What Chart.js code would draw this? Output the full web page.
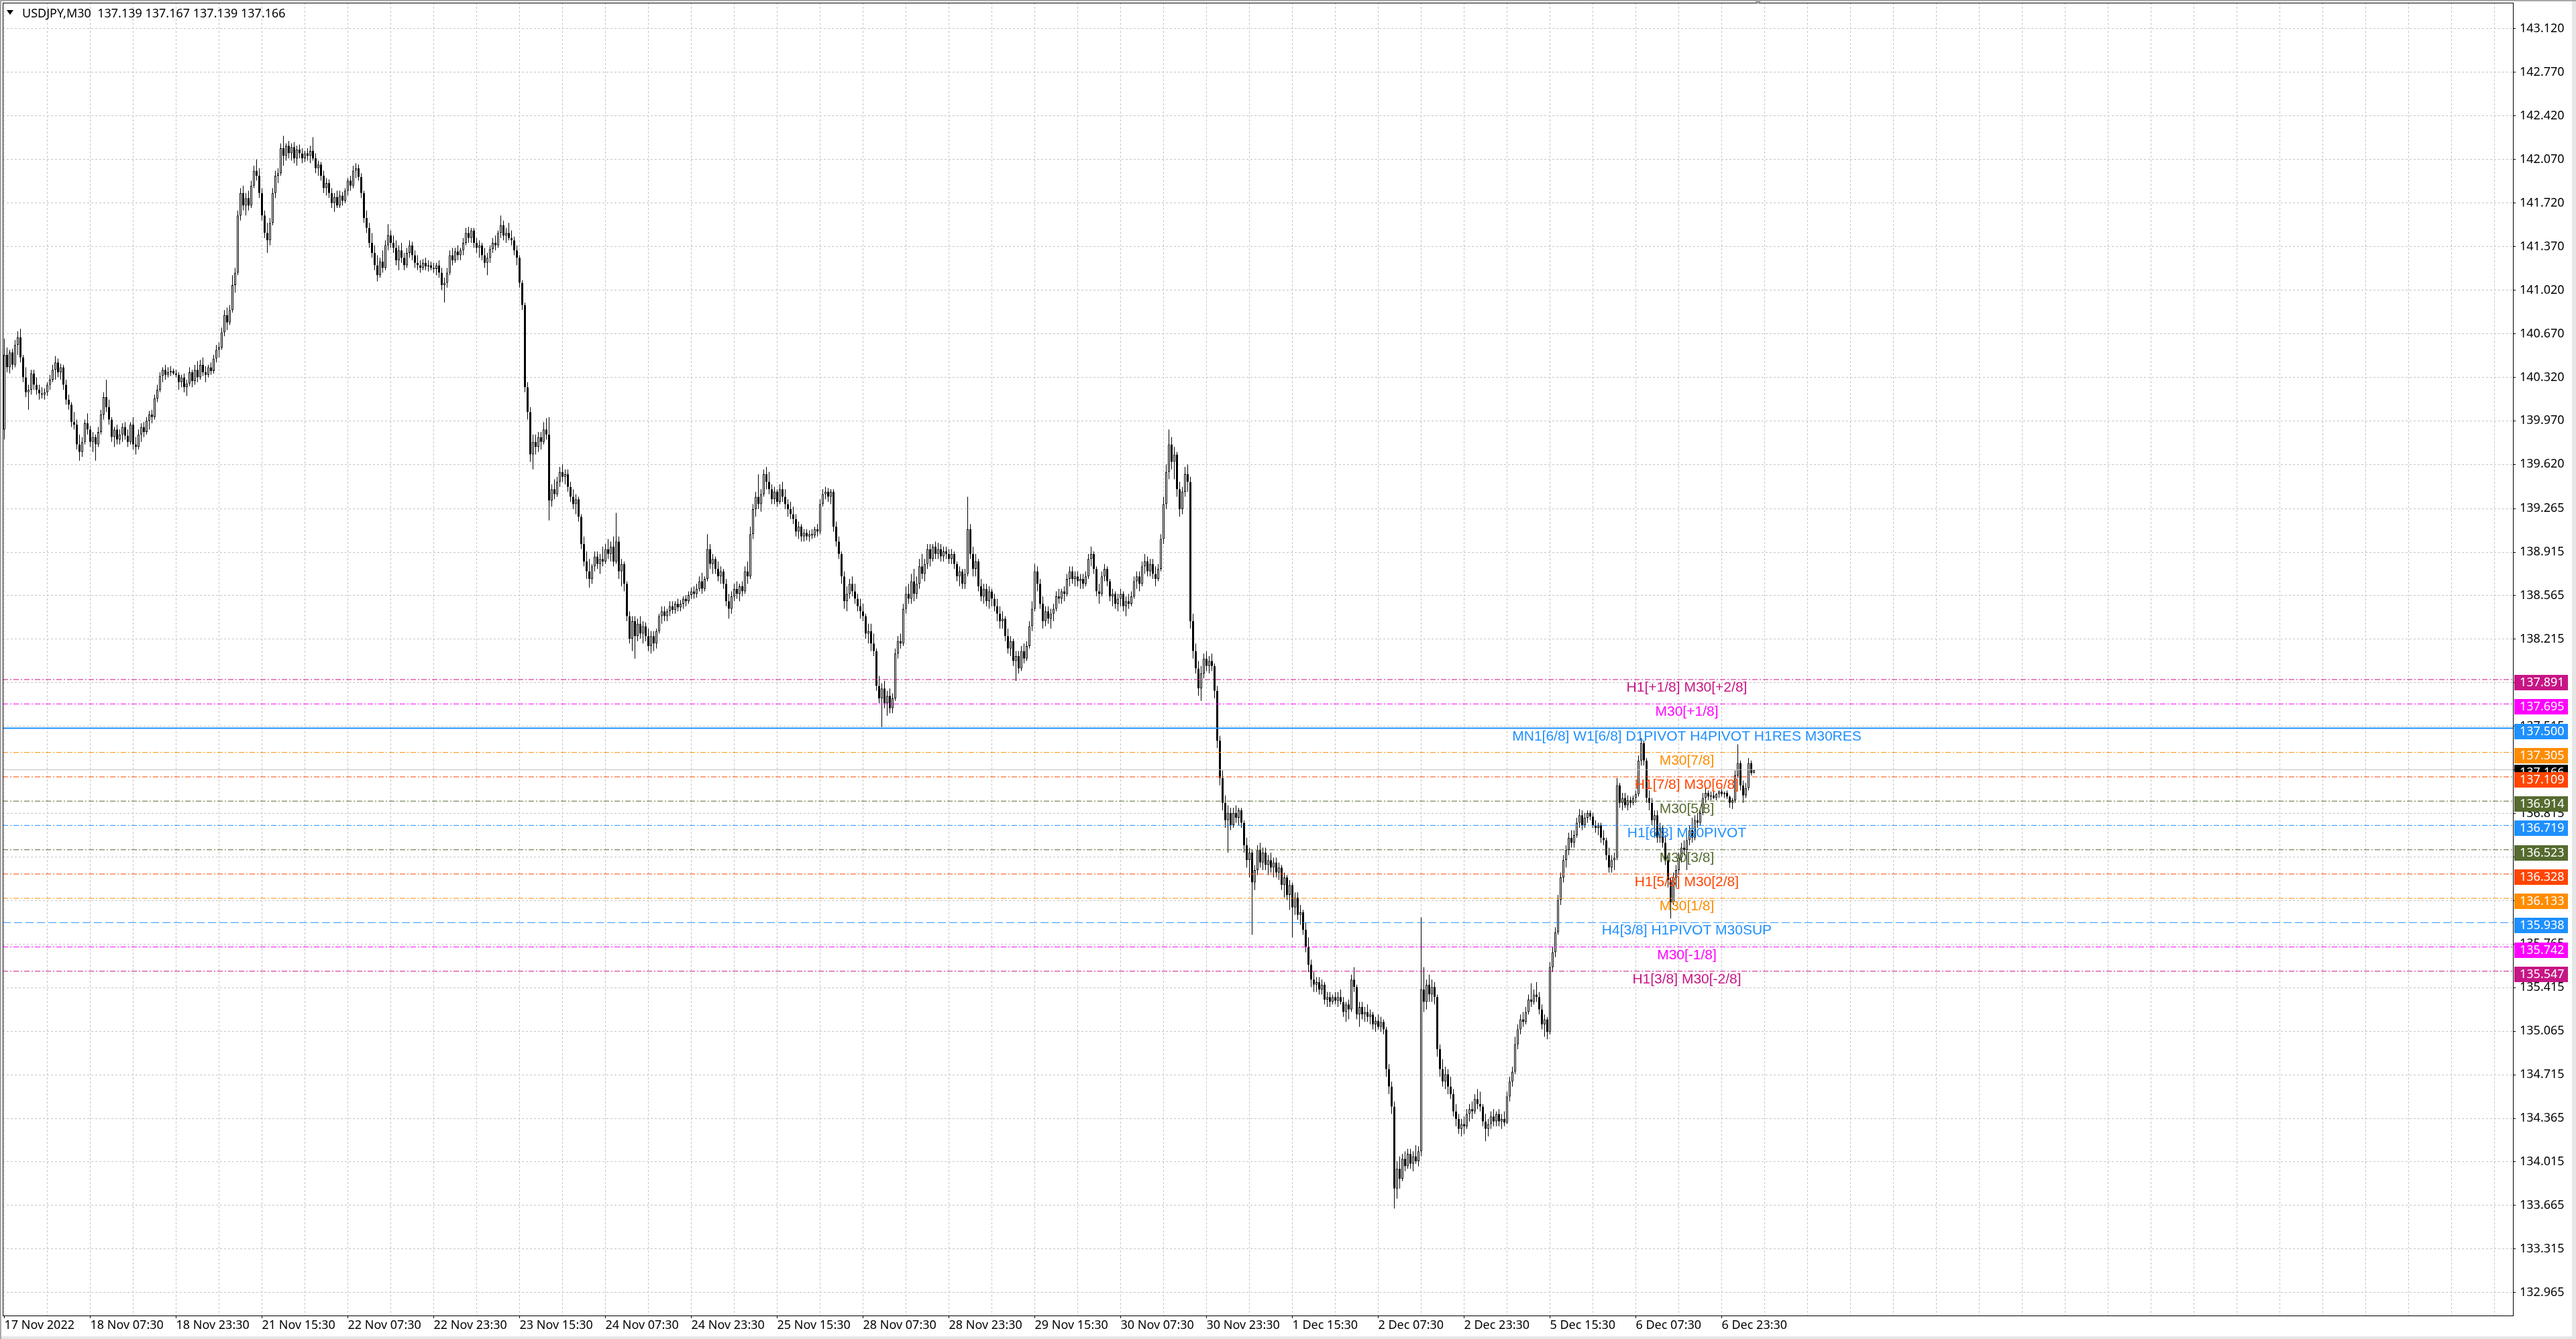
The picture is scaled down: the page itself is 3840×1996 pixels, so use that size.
<!DOCTYPE html>
<html>
<head>
<meta charset="utf-8">
<title>USDJPY,M30</title>
<script src="https://cdn.jsdelivr.net/npm/chart.js@4.4.0/dist/chart.umd.min.js"></script>
<style>
  html, body { margin: 0; padding: 0; background: #ffffff; overflow: hidden; }
  canvas { display: block; }
</style>
</head>
<body>
<canvas id="chart" width="3840" height="1996"></canvas>
<script>
// USDJPY M30 candles, one row per bar: [open, high, low, close]
// first bar 17 Nov 2022 15:30, last bar 7 Dec 2022 05:30
const nov17 = [
  [139.90,140.63,139.82,140.50],[140.50,140.56,140.36,140.40],[140.40,140.54,140.35,140.52],[140.52,140.55,140.38,140.42],
  [140.42,140.62,140.40,140.58],[140.58,140.69,140.50,140.64],[140.64,140.71,140.44,140.48],[140.48,140.50,140.28,140.32],
  [140.32,140.40,140.16,140.20],[140.20,140.26,140.06,140.22],[140.22,140.38,140.18,140.35],[140.35,140.38,140.22,140.26],
  [140.26,140.32,140.18,140.22],[140.22,140.26,140.14,140.19],[140.19,140.24,140.15,140.18],[140.18,140.23,140.14,140.20],
  [140.20,140.28,140.17,140.26]
];
const nov18 = [
  [140.26,140.34,140.22,140.30],[140.30,140.42,140.28,140.38],[140.38,140.49,140.30,140.44],[140.44,140.47,140.32,140.36],
  [140.36,140.43,140.30,140.40],[140.40,140.42,140.22,140.26],[140.26,140.30,140.10,140.14],[140.14,140.18,140.06,140.10],
  [140.10,140.12,139.92,139.96],[139.96,140.04,139.90,139.94],[139.94,139.98,139.74,139.78],[139.78,139.86,139.65,139.72],
  [139.72,139.84,139.68,139.80],[139.80,139.98,139.78,139.95],[139.95,140.03,139.86,139.90],[139.90,139.93,139.76,139.80],
  [139.80,139.88,139.72,139.84],[139.84,139.86,139.65,139.78],[139.78,139.92,139.76,139.88],[139.88,140.06,139.86,140.02],
  [140.02,140.20,139.98,140.16],[140.16,140.30,140.04,140.08],[140.08,140.14,139.94,139.98],[139.98,140.00,139.80,139.84],
  [139.84,139.92,139.76,139.90],[139.90,139.94,139.78,139.82],[139.82,139.90,139.78,139.86],[139.86,139.95,139.80,139.92],
  [139.92,139.96,139.82,139.85],[139.85,139.90,139.76,139.80],[139.80,139.96,139.78,139.94],[139.94,140.00,139.74,139.78],
  [139.78,139.84,139.70,139.76],[139.76,139.90,139.74,139.86],[139.86,139.95,139.80,139.92],[139.92,139.96,139.84,139.88],
  [139.88,140.00,139.86,139.97],[139.97,140.05,139.90,140.02],[140.02,140.06,139.95,140.00],[140.00,140.18,139.98,140.15],
  [140.15,140.26,140.12,140.22],[140.22,140.36,140.20,140.33],[140.33,140.40,140.28,140.38],[140.38,140.42,140.30,140.34],
  [140.34,140.40,140.32,140.36],[140.36,140.41,140.33,140.37],[140.37,140.39,140.34,140.35],[140.35,140.38,140.32,140.34]
];
const nov21 = [
  [140.34,140.36,140.22,140.28],[140.28,140.34,140.24,140.32],[140.32,140.35,140.20,140.24],[140.24,140.30,140.17,140.27],
  [140.27,140.40,140.25,140.36],[140.36,140.38,140.24,140.29],[140.29,140.42,140.26,140.38],[140.38,140.45,140.28,140.32],
  [140.32,140.46,140.30,140.42],[140.42,140.48,140.33,140.36],[140.36,140.41,140.28,140.34],[140.34,140.42,140.32,140.40],
  [140.40,140.44,140.34,140.37],[140.37,140.50,140.35,140.47],[140.47,140.58,140.44,140.54],[140.54,140.60,140.48,140.56],
  [140.56,140.72,140.54,140.68],[140.68,140.86,140.65,140.82],[140.82,140.88,140.70,140.76],[140.76,140.90,140.74,140.86],
  [140.86,141.14,140.84,141.06],[141.06,141.20,141.00,141.16],[141.16,141.66,141.14,141.62],[141.62,141.84,141.58,141.80],
  [141.80,141.86,141.66,141.70],[141.70,141.80,141.62,141.76],[141.76,141.82,141.66,141.70],[141.70,141.90,141.68,141.86],
  [141.86,142.02,141.84,141.98],[141.98,142.07,141.90,141.94],[141.94,142.00,141.76,141.80],[141.80,141.84,141.58,141.62],
  [141.62,141.66,141.44,141.48],[141.48,141.56,141.32,141.42],[141.42,141.60,141.38,141.56],[141.56,141.84,141.54,141.80],
  [141.80,141.98,141.76,141.94],[141.94,142.00,141.88,141.96],[141.96,142.20,141.94,142.16],[142.16,142.26,142.02,142.10],
  [142.10,142.20,142.06,142.18],[142.18,142.22,142.08,142.12],[142.12,142.20,142.06,142.17],[142.17,142.21,142.04,142.08],
  [142.08,142.18,142.02,142.15],[142.15,142.19,142.08,142.12],[142.12,142.16,142.04,142.08],[142.08,142.14,142.05,142.12]
];
const nov22 = [
  [142.12,142.16,142.06,142.10],[142.10,142.18,142.04,142.14],[142.14,142.25,142.06,142.08],[142.08,142.12,141.96,142.00],
  [142.00,142.06,141.94,142.03],[142.03,142.05,141.90,141.94],[141.94,141.98,141.80,141.84],[141.84,141.92,141.78,141.88],
  [141.88,141.91,141.76,141.80],[141.80,141.84,141.68,141.72],[141.72,141.80,141.65,141.77],[141.77,141.82,141.68,141.70],
  [141.70,141.82,141.68,141.78],[141.78,141.81,141.70,141.74],[141.74,141.84,141.72,141.82],[141.82,141.92,141.78,141.90],
  [141.90,141.94,141.82,141.86],[141.86,142.02,141.84,141.98],[141.98,142.04,141.92,142.00],[142.00,142.03,141.90,141.93],
  [141.93,141.96,141.76,141.80],[141.80,141.82,141.56,141.60],[141.60,141.66,141.48,141.52],[141.52,141.56,141.36,141.40],
  [141.40,141.48,141.28,141.32],[141.32,141.38,141.18,141.22],[141.22,141.30,141.09,141.14],[141.14,141.28,141.12,141.25],
  [141.25,141.34,141.16,141.20],[141.20,141.42,141.18,141.38],[141.38,141.55,141.34,141.46],[141.46,141.50,141.36,141.40],
  [141.40,141.46,141.32,141.36],[141.36,141.42,141.22,141.26],[141.26,141.38,141.18,141.34],[141.34,141.40,141.24,141.28],
  [141.28,141.32,141.18,141.22],[141.22,141.36,141.20,141.32],[141.32,141.42,141.28,141.38],[141.38,141.41,141.26,141.30],
  [141.30,141.34,141.20,141.24],[141.24,141.30,141.18,141.22],[141.22,141.26,141.16,141.20],[141.20,141.27,141.18,141.24],
  [141.24,141.28,141.18,141.21],[141.21,141.26,141.17,141.22],[141.22,141.25,141.18,141.20],[141.20,141.24,141.16,141.19]
];
const nov23 = [
  [141.19,141.24,141.14,141.22],[141.22,141.26,141.12,141.16],[141.16,141.20,141.02,141.06],[141.06,141.12,140.92,141.08],
  [141.08,141.20,141.04,141.16],[141.16,141.34,141.14,141.30],[141.30,141.36,141.22,141.26],[141.26,141.36,141.24,141.33],
  [141.33,141.38,141.26,141.30],[141.30,141.36,141.26,141.34],[141.34,141.44,141.30,141.40],[141.40,141.52,141.38,141.48],
  [141.48,141.53,141.40,141.44],[141.44,141.52,141.40,141.50],[141.50,141.52,141.36,141.40],[141.40,141.44,141.32,141.36],
  [141.36,141.42,141.28,141.38],[141.38,141.40,141.26,141.30],[141.30,141.36,141.20,141.24],[141.24,141.32,141.14,141.28],
  [141.28,141.38,141.24,141.35],[141.35,141.44,141.32,141.40],[141.40,141.46,141.34,141.38],[141.38,141.50,141.36,141.48],
  [141.48,141.62,141.44,141.54],[141.54,141.58,141.42,141.46],[141.46,141.52,141.40,141.48],[141.48,141.56,141.42,141.44],
  [141.44,141.50,141.38,141.42],[141.42,141.45,141.30,141.34],[141.34,141.38,141.22,141.28],[141.28,141.30,141.04,141.08],
  [141.08,141.10,140.86,140.90],[140.90,140.92,140.20,140.24],[140.24,140.28,139.98,140.04],[140.04,140.08,139.64,139.70],
  [139.70,139.86,139.58,139.80],[139.80,139.86,139.70,139.76],[139.76,139.88,139.72,139.84],[139.84,139.88,139.74,139.80],
  [139.80,139.96,139.78,139.90],[139.90,139.99,139.82,139.86],[139.86,140.00,139.17,139.33],[139.33,139.46,139.28,139.42],
  [139.42,139.50,139.34,139.38],[139.38,139.52,139.36,139.48],[139.48,139.60,139.44,139.56],[139.56,139.62,139.48,139.52]
];
const nov24 = [
  [139.52,139.58,139.46,139.54],[139.54,139.58,139.40,139.44],[139.44,139.48,139.32,139.36],[139.36,139.42,139.26,139.30],
  [139.30,139.38,139.22,139.34],[139.34,139.36,139.16,139.20],[139.20,139.22,138.94,138.98],[138.98,139.04,138.80,138.84],
  [138.84,138.92,138.70,138.76],[138.76,138.86,138.63,138.70],[138.70,138.82,138.66,138.80],[138.80,138.92,138.76,138.88],
  [138.88,138.92,138.78,138.82],[138.82,138.90,138.74,138.86],[138.86,138.96,138.80,138.84],[138.84,138.98,138.82,138.94],
  [138.94,139.02,138.86,138.90],[138.90,139.00,138.84,138.96],[138.96,139.04,138.80,138.84],[138.84,139.23,138.82,139.00],
  [139.00,139.04,138.70,138.76],[138.76,138.86,138.64,138.82],[138.82,138.84,138.60,138.66],[138.66,138.68,138.36,138.40],
  [138.40,138.44,138.18,138.22],[138.22,138.40,138.12,138.36],[138.36,138.40,138.06,138.24],[138.24,138.38,138.20,138.34],
  [138.34,138.40,138.22,138.26],[138.26,138.36,138.18,138.32],[138.32,138.35,138.20,138.24],[138.24,138.30,138.12,138.16],
  [138.16,138.28,138.10,138.24],[138.24,138.28,138.12,138.18],[138.18,138.30,138.14,138.28],[138.28,138.42,138.26,138.40],
  [138.40,138.48,138.34,138.44],[138.44,138.48,138.36,138.40],[138.40,138.46,138.36,138.44],[138.44,138.52,138.40,138.48],
  [138.48,138.52,138.42,138.45],[138.45,138.52,138.42,138.50],[138.50,138.54,138.44,138.47],[138.47,138.53,138.44,138.50],
  [138.50,138.56,138.46,138.54],[138.54,138.57,138.48,138.52],[138.52,138.60,138.50,138.57],[138.57,138.63,138.54,138.60]
];
const nov25 = [
  [138.60,138.64,138.54,138.58],[138.58,138.66,138.55,138.62],[138.62,138.72,138.60,138.68],[138.68,138.75,138.58,138.62],
  [138.62,138.72,138.60,138.70],[138.70,139.06,138.68,138.94],[138.94,138.98,138.78,138.82],[138.82,138.90,138.74,138.86],
  [138.86,138.88,138.74,138.78],[138.78,138.84,138.68,138.72],[138.72,138.80,138.66,138.76],[138.76,138.78,138.62,138.66],
  [138.66,138.70,138.48,138.52],[138.52,138.58,138.38,138.46],[138.46,138.60,138.42,138.56],[138.56,138.66,138.52,138.62],
  [138.62,138.68,138.54,138.58],[138.58,138.66,138.52,138.64],[138.64,138.68,138.56,138.60],[138.60,138.80,138.58,138.76],
  [138.76,138.84,138.66,138.72],[138.72,139.12,138.70,139.06],[139.06,139.30,139.02,139.26],[139.26,139.40,139.20,139.36],
  [139.36,139.54,139.26,139.30],[139.30,139.42,139.24,139.38],[139.38,139.58,139.36,139.54],[139.54,139.60,139.42,139.48],
  [139.48,139.56,139.38,139.42],[139.42,139.46,139.30,139.34],[139.34,139.44,139.30,139.40],[139.40,139.42,139.28,139.32],
  [139.32,139.46,139.30,139.42],[139.42,139.48,139.32,139.36],[139.36,139.42,139.26,139.30],[139.30,139.34,139.20,139.26],
  [139.26,139.32,139.18,139.22],[139.22,139.28,139.14,139.18],[139.18,139.22,139.04,139.08],[139.08,139.16,139.02,139.12],
  [139.12,139.14,139.00,139.04],[139.04,139.10,139.00,139.07],[139.07,139.10,139.01,139.04],[139.04,139.09,139.00,139.06],
  [139.06,139.10,139.02,139.05],[139.05,139.12,139.03,139.10],[139.10,139.14,139.04,139.08],[139.08,139.34,139.06,139.30]
];
const nov28 = [
  [139.30,139.42,139.28,139.38],[139.38,139.44,139.34,139.40],[139.40,139.43,139.32,139.36],[139.36,139.42,139.30,139.40],
  [139.40,139.42,139.08,139.12],[139.12,139.16,138.96,139.00],[139.00,139.04,138.86,138.90],[138.90,138.92,138.66,138.72],
  [138.72,138.76,138.46,138.52],[138.52,138.64,138.44,138.58],[138.58,138.70,138.54,138.66],[138.66,138.72,138.56,138.60],
  [138.60,138.66,138.50,138.54],[138.54,138.58,138.44,138.48],[138.48,138.54,138.38,138.44],[138.44,138.50,138.36,138.40],
  [138.40,138.42,138.22,138.26],[138.26,138.34,138.18,138.28],[138.28,138.34,138.12,138.18],[138.18,138.26,138.08,138.12],
  [138.12,138.14,137.80,137.84],[137.84,137.92,137.70,137.74],[137.74,137.86,137.51,137.82],[137.82,137.88,137.66,137.70],
  [137.70,137.80,137.60,137.76],[137.76,137.82,137.62,137.66],[137.66,137.78,137.62,137.74],[137.74,138.14,137.72,138.10],
  [138.10,138.24,138.06,138.20],[138.20,138.26,138.14,138.18],[138.18,138.50,138.16,138.46],[138.46,138.64,138.42,138.58],
  [138.58,138.66,138.50,138.54],[138.54,138.74,138.50,138.68],[138.68,138.78,138.52,138.58],[138.58,138.72,138.54,138.66],
  [138.66,138.86,138.62,138.80],[138.80,138.90,138.70,138.74],[138.74,138.86,138.68,138.82],[138.82,138.98,138.78,138.94],
  [138.94,138.98,138.80,138.86],[138.86,138.98,138.84,138.96],[138.96,139.00,138.86,138.90],[138.90,138.99,138.86,138.94],
  [138.94,138.98,138.84,138.88],[138.88,138.96,138.84,138.92],[138.92,138.96,138.86,138.90],[138.90,138.94,138.82,138.86]
];
const nov29 = [
  [138.86,138.94,138.82,138.90],[138.90,138.92,138.78,138.82],[138.82,138.84,138.68,138.72],[138.72,138.80,138.64,138.76],
  [138.76,138.78,138.62,138.66],[138.66,138.78,138.62,138.74],[138.74,139.36,138.72,139.10],[139.10,139.14,138.86,138.90],
  [138.90,138.96,138.72,138.78],[138.78,138.90,138.72,138.84],[138.84,138.86,138.60,138.64],[138.64,138.70,138.52,138.56],
  [138.56,138.66,138.50,138.62],[138.62,138.66,138.48,138.52],[138.52,138.64,138.46,138.60],[138.60,138.62,138.48,138.54],
  [138.54,138.58,138.44,138.48],[138.48,138.54,138.36,138.42],[138.42,138.48,138.30,138.36],[138.36,138.44,138.30,138.38],
  [138.38,138.40,138.20,138.24],[138.24,138.30,138.10,138.14],[138.14,138.24,138.08,138.20],[138.20,138.22,138.00,138.04],
  [138.04,138.12,137.88,138.08],[138.08,138.12,137.94,137.98],[137.98,138.16,137.96,138.12],[138.12,138.18,138.02,138.06],
  [138.06,138.20,138.04,138.16],[138.16,138.36,138.14,138.32],[138.32,138.52,138.28,138.46],[138.46,138.82,138.44,138.76],
  [138.76,138.80,138.60,138.66],[138.66,138.70,138.46,138.50],[138.50,138.56,138.30,138.36],[138.36,138.48,138.32,138.44],
  [138.44,138.48,138.34,138.38],[138.38,138.46,138.30,138.42],[138.42,138.50,138.36,138.46],[138.46,138.60,138.44,138.56],
  [138.56,138.62,138.50,138.54],[138.54,138.62,138.50,138.60],[138.60,138.64,138.52,138.58],[138.58,138.74,138.56,138.70],
  [138.70,138.80,138.64,138.76],[138.76,138.80,138.66,138.70],[138.70,138.76,138.64,138.72],[138.72,138.76,138.64,138.68]
];
const nov30 = [
  [138.68,138.74,138.62,138.70],[138.70,138.74,138.62,138.66],[138.66,138.76,138.64,138.72],[138.72,138.90,138.70,138.86],
  [138.86,138.96,138.80,138.90],[138.90,138.92,138.74,138.78],[138.78,138.80,138.56,138.60],[138.60,138.66,138.50,138.58],
  [138.58,138.76,138.56,138.72],[138.72,138.82,138.68,138.78],[138.78,138.80,138.64,138.68],[138.68,138.70,138.52,138.56],
  [138.56,138.62,138.48,138.58],[138.58,138.60,138.46,138.50],[138.50,138.58,138.44,138.54],[138.54,138.62,138.48,138.58],
  [138.58,138.60,138.44,138.48],[138.48,138.56,138.40,138.52],[138.52,138.58,138.46,138.50],[138.50,138.60,138.48,138.56],
  [138.56,138.72,138.54,138.68],[138.68,138.76,138.62,138.72],[138.72,138.76,138.60,138.66],[138.66,138.84,138.64,138.80],
  [138.80,138.90,138.74,138.84],[138.84,138.88,138.72,138.76],[138.76,138.86,138.72,138.82],[138.82,138.86,138.70,138.74],
  [138.74,138.80,138.64,138.70],[138.70,138.82,138.68,138.78],[138.78,139.06,138.76,139.02],[139.02,139.36,138.98,139.30],
  [139.30,139.62,139.26,139.56],[139.56,139.90,139.50,139.78],[139.78,139.84,139.58,139.64],[139.64,139.76,139.50,139.70],
  [139.70,139.72,139.36,139.42],[139.42,139.48,139.20,139.26],[139.26,139.44,139.22,139.40],[139.40,139.60,139.36,139.54],
  [139.54,139.62,139.40,139.48],[139.48,139.52,138.30,138.36],[138.36,138.42,138.06,138.12],[138.12,138.18,137.94,137.98],
  [137.98,138.04,137.76,137.82],[137.82,138.00,137.72,137.94],[137.94,138.10,137.90,138.06],[138.06,138.12,137.96,138.00]
];
const dec01 = [
  [138.00,138.08,137.94,138.04],[138.04,138.10,137.96,138.00],[138.00,138.02,137.74,137.80],[137.80,137.84,137.34,137.40],
  [137.40,137.44,137.04,137.10],[137.10,137.16,136.84,136.90],[136.90,136.96,136.70,136.76],[136.76,136.88,136.50,136.82],
  [136.82,136.86,136.68,136.72],[136.72,136.86,136.70,136.82],[136.82,136.88,136.74,136.78],[136.78,136.86,136.72,136.84],
  [136.84,136.86,136.70,136.74],[136.74,136.76,136.50,136.56],[136.56,136.62,136.38,136.44],[136.44,136.54,136.30,136.50],
  [136.50,136.52,135.84,136.26],[136.26,136.40,136.20,136.36],[136.36,136.56,136.32,136.52],[136.52,136.58,136.38,136.42],
  [136.42,136.54,136.36,136.50],[136.50,136.54,136.36,136.40],[136.40,136.48,136.32,136.44],[136.44,136.50,136.34,136.38],
  [136.38,136.46,136.30,136.42],[136.42,136.46,136.30,136.34],[136.34,136.42,136.28,136.38],[136.38,136.40,136.20,136.24],
  [136.24,136.34,136.14,136.30],[136.30,136.32,136.12,136.16],[136.16,136.28,136.04,136.24],[136.24,136.26,135.82,136.06],
  [136.06,136.18,136.00,136.14],[136.14,136.18,135.96,136.00],[136.00,136.08,135.92,136.02],[136.02,136.04,135.84,135.88],
  [135.88,135.94,135.70,135.74],[135.74,135.82,135.54,135.60],[135.60,135.64,135.42,135.48],[135.48,135.54,135.38,135.44],
  [135.44,135.50,135.38,135.46],[135.46,135.50,135.36,135.40],[135.40,135.48,135.36,135.44],[135.44,135.46,135.28,135.32],
  [135.32,135.38,135.26,135.34],[135.34,135.38,135.26,135.30],[135.30,135.36,135.28,135.34],[135.34,135.38,135.28,135.31]
];
const dec02 = [
  [135.31,135.38,135.26,135.34],[135.34,135.40,135.28,135.30],[135.30,135.34,135.18,135.22],[135.22,135.30,135.14,135.28],
  [135.28,135.32,135.16,135.24],[135.24,135.52,135.22,135.48],[135.48,135.58,135.38,135.42],[135.42,135.44,135.16,135.20],
  [135.20,135.30,135.10,135.26],[135.26,135.30,135.16,135.20],[135.20,135.26,135.14,135.22],[135.22,135.28,135.14,135.18],
  [135.18,135.24,135.12,135.20],[135.20,135.22,135.08,135.12],[135.12,135.18,135.06,135.15],[135.15,135.20,135.08,135.10],
  [135.10,135.18,135.06,135.14],[135.14,135.16,135.04,135.08],[135.08,135.10,134.70,134.76],[134.76,134.80,134.56,134.62],
  [134.62,134.66,134.40,134.46],[134.46,134.50,133.64,133.80],[133.80,134.02,133.72,133.96],[133.96,134.06,133.80,133.88],
  [133.88,134.08,133.86,134.04],[134.04,134.10,133.94,133.98],[133.98,134.12,133.96,134.08],[134.08,134.12,133.96,134.00],
  [134.00,134.10,133.94,134.06],[134.06,134.15,134.00,134.02],[134.02,134.14,133.98,134.10],[134.10,135.98,134.06,135.40],
  [135.40,135.58,135.22,135.30],[135.30,135.48,135.24,135.44],[135.44,135.52,135.30,135.36],[135.36,135.48,135.30,135.42],
  [135.42,135.46,135.28,135.34],[135.34,135.36,134.86,134.92],[134.92,134.96,134.70,134.76],[134.76,134.84,134.62,134.66],
  [134.66,134.78,134.60,134.72],[134.72,134.76,134.56,134.62],[134.62,134.70,134.52,134.56],[134.56,134.60,134.38,134.42],
  [134.42,134.48,134.30,134.36],[134.36,134.40,134.24,134.28],[134.28,134.36,134.22,134.32],[134.32,134.38,134.24,134.30]
];
const dec05 = [
  [134.30,134.44,134.28,134.40],[134.40,134.48,134.34,134.44],[134.44,134.50,134.36,134.42],[134.42,134.56,134.40,134.52],
  [134.52,134.60,134.44,134.48],[134.48,134.58,134.42,134.46],[134.46,134.48,134.30,134.34],[134.34,134.40,134.18,134.28],
  [134.28,134.36,134.22,134.32],[134.32,134.42,134.28,134.38],[134.38,134.44,134.30,134.34],[134.34,134.42,134.30,134.40],
  [134.40,134.44,134.30,134.34],[134.34,134.40,134.28,134.36],[134.36,134.42,134.30,134.33],[134.33,134.58,134.32,134.54],
  [134.54,134.70,134.50,134.66],[134.66,134.78,134.62,134.74],[134.74,135.02,134.72,134.96],[134.96,135.12,134.92,135.08],
  [135.08,135.20,135.04,135.16],[135.16,135.22,135.10,135.14],[135.14,135.26,135.12,135.22],[135.22,135.36,135.20,135.32],
  [135.32,135.45,135.26,135.30],[135.30,135.40,135.28,135.36],[135.36,135.46,135.30,135.34],[135.34,135.38,135.20,135.24],
  [135.24,135.28,135.08,135.12],[135.12,135.20,135.02,135.16],[135.16,135.18,135.00,135.06],[135.06,135.62,135.04,135.58],
  [135.58,135.74,135.54,135.70],[135.70,135.90,135.66,135.86],[135.86,136.16,135.84,136.12],[136.12,136.34,136.08,136.30],
  [136.30,136.48,136.26,136.44],[136.44,136.56,136.38,136.52],[136.52,136.66,136.48,136.62],[136.62,136.68,136.54,136.58],
  [136.58,136.68,136.54,136.64],[136.64,136.78,136.62,136.74],[136.74,136.85,136.70,136.80],[136.80,136.84,136.68,136.72],
  [136.72,136.82,136.70,136.78],[136.78,136.84,136.74,136.82],[136.82,136.84,136.76,136.79],[136.79,136.82,136.70,136.72]
];
const dec06 = [
  [136.72,136.76,136.66,136.70],[136.70,136.74,136.64,136.72],[136.72,136.74,136.58,136.62],[136.62,136.68,136.56,136.60],
  [136.60,136.62,136.44,136.48],[136.48,136.54,136.34,136.38],[136.38,136.48,136.34,136.44],[136.44,136.50,136.36,136.46],
  [136.46,137.10,136.44,137.04],[137.04,137.06,136.86,136.90],[136.90,136.98,136.84,136.94],[136.94,136.98,136.86,136.88],
  [136.88,136.96,136.84,136.92],[136.92,136.95,136.86,136.90],[136.90,136.96,136.88,136.94],[136.94,137.00,136.90,136.97],
  [136.97,137.28,136.95,137.24],[137.24,137.42,137.20,137.38],[137.38,137.40,137.20,137.24],[137.24,137.26,136.90,136.94],
  [136.94,137.00,136.84,136.90],[136.90,136.94,136.72,136.76],[136.76,136.84,136.62,136.80],[136.80,136.84,136.58,136.62],
  [136.62,136.74,136.58,136.70],[136.70,136.72,136.54,136.58],[136.58,136.64,136.40,136.44],[136.44,136.48,136.22,136.28],
  [136.28,136.30,135.97,136.10],[136.10,136.34,136.08,136.30],[136.30,136.40,136.22,136.36],[136.36,136.50,136.32,136.46],
  [136.46,136.58,136.42,136.54],[136.54,136.60,136.48,136.52],[136.52,136.66,136.36,136.60],[136.60,136.72,136.56,136.68],
  [136.68,136.78,136.58,136.62],[136.62,136.80,136.60,136.76],[136.76,136.82,136.70,136.74],[136.74,136.86,136.72,136.82],
  [136.82,136.98,136.80,136.94],[136.94,137.02,136.90,136.98],[136.98,137.00,136.92,136.95],[136.95,136.99,136.92,136.96],
  [136.96,136.99,136.93,136.94],[136.94,136.98,136.92,136.97],[136.97,137.00,136.94,136.99],[136.99,137.01,136.95,136.97]
];
const dec07 = [
  [136.97,136.99,136.94,136.98],[136.98,137.00,136.93,136.95],[136.95,136.96,136.86,136.90],[136.90,136.94,136.85,136.92],
  [136.92,137.16,136.90,137.12],[137.12,137.37,137.10,137.22],[137.22,137.24,137.00,137.04],[137.04,137.08,136.90,136.96],
  [136.96,137.06,136.94,137.02],[137.02,137.26,137.00,137.22],[137.22,137.24,137.12,137.139],[137.139,137.167,137.139,137.166]
];

const symbolName = 'USDJPY';
const periodName = 'M30';

// time axis labels, one every 32 bars (16 hours)
const timeLabels = [
  '17 Nov 2022', '18 Nov 07:30', '18 Nov 23:30', '21 Nov 15:30', '22 Nov 07:30', '22 Nov 23:30',
  '23 Nov 15:30', '24 Nov 07:30', '24 Nov 23:30', '25 Nov 15:30', '28 Nov 07:30', '28 Nov 23:30',
  '29 Nov 15:30', '30 Nov 07:30', '30 Nov 23:30', '1 Dec 15:30', '2 Dec 07:30', '2 Dec 23:30',
  '5 Dec 15:30', '6 Dec 07:30', '6 Dec 23:30'
];

// price axis labels
const priceTicks = [
  143.120, 142.770, 142.420, 142.070, 141.720, 141.370, 141.020, 140.670, 140.320, 139.970,
  139.620, 139.265, 138.915, 138.565, 138.215, 137.865, 137.515, 137.165, 136.815, 136.465,
  136.115, 135.765, 135.415, 135.065, 134.715, 134.365, 134.015, 133.665, 133.315, 132.965
];

// Murrey math / pivot levels
const levelPrices = [137.891, 137.695, 137.500, 137.305, 137.109, 136.914, 136.719, 136.523, 136.328, 136.133, 135.938, 135.742, 135.547];
const levelNames = [
  'H1[+1/8] M30[+2/8]', 'M30[+1/8]', 'MN1[6/8] W1[6/8] D1PIVOT H4PIVOT H1RES M30RES', 'M30[7/8]',
  'H1[7/8] M30[6/8]', 'M30[5/8]', 'H1[6/8] M30PIVOT', 'M30[3/8]', 'H1[5/8] M30[2/8]', 'M30[1/8]',
  'H4[3/8] H1PIVOT M30SUP', 'M30[-1/8]', 'H1[3/8] M30[-2/8]'
];

// styles
const levelColors = ['#C71585', '#FF00FF', '#1E90FF', '#FF8C00', '#FF4500', '#556B2F', '#1E90FF', '#556B2F', '#FF4500', '#FF8C00', '#1E90FF', '#FF00FF', '#C71585'];
const levelStyles = ['dashdot', 'dashdot', 'solid', 'dashdot', 'dashdot', 'dashdot', 'dashdot', 'dashdot', 'dashdot', 'dashdot', 'dash', 'dashdot', 'dashdot'];
const dashPatterns = { solid: [], dash: [12, 5], dashdot: [8, 3, 2, 3] };
const gridColor = '#C4C4C4';
const axisFont = { family: '"Noto Sans", sans-serif', size: 18 };
const tagFont = '18px "Noto Sans", sans-serif';
const captionFont = '21px "Liberation Sans", Arial, sans-serif';

const allBars = [].concat(nov17, nov18, nov21, nov22, nov23, nov24, nov25, nov28, nov29, nov30, dec01, dec02, dec05, dec06, dec07);
const lastBar = allBars[allBars.length - 1];
const currentPrice = lastBar[3];

// visible window: 4 px per bar, price scale 185.5 px per yen
const xMin = -0.625, xMax = 934.875;
const yMin = 132.7804, yMax = 143.3302;
const captionBar = 627;

function timeLabelAt(v) {
  const k = v / 32;
  return Number.isInteger(k) && k >= 0 && k < timeLabels.length ? timeLabels[k] : '';
}

const wickSet = {
  type: 'bar', order: 2,
  data: allBars.map((b, i) => ({ x: i, y: [b[2], b[1]] })),
  backgroundColor: '#000000', borderWidth: 0, barThickness: 1,
  grouped: false, inflateAmount: 0, minBarLength: 1
};
const bodySet = {
  type: 'bar', order: 1,
  data: allBars.map((b, i) => ({ x: i, y: [b[0], b[3]] })),
  backgroundColor: allBars.map(b => (b[3] >= b[0] ? '#FFFFFF' : '#000000')),
  borderColor: '#000000', borderWidth: 1, borderSkipped: false, barThickness: 3,
  grouped: false, inflateAmount: 0, minBarLength: 1
};
const bidSet = {
  type: 'line', order: 0,
  data: [{ x: xMin, y: currentPrice }, { x: xMax, y: currentPrice }],
  borderColor: '#C0C0C0', borderWidth: 1, pointRadius: 0, fill: false
};
const levelSets = levelPrices.map((p, k) => ({
  type: 'line', order: -1,
  data: [{ x: xMin, y: p }, { x: xMax, y: p }],
  borderColor: levelColors[k],
  borderWidth: levelStyles[k] === 'solid' ? 2 : 1,
  borderDash: dashPatterns[levelStyles[k]],
  pointRadius: 0, fill: false
}));

const overlay = {
  id: 'overlay',
  beforeDraw(chart) {
    const { ctx, width, height } = chart;
    ctx.save();
    ctx.fillStyle = '#FFFFFF';
    ctx.fillRect(0, 0, width, height);
    ctx.restore();
  },
  afterDatasetsDraw(chart) {
    const { ctx, scales: { x, y } } = chart;
    ctx.save();
    ctx.font = captionFont;
    ctx.textAlign = 'center';
    ctx.textBaseline = 'alphabetic';
    const cx = x.getPixelForValue(captionBar);
    levelPrices.forEach((p, k) => {
      ctx.fillStyle = levelColors[k];
      ctx.fillText(levelNames[k], cx, y.getPixelForValue(p) + 18);
    });
    ctx.restore();
  },
  afterDraw(chart) {
    const { ctx, chartArea: a, scales: { x, y }, width, height } = chart;
    ctx.save();

    // window frame
    ctx.fillStyle = '#E6E6E6';
    ctx.fillRect(width - 6, 0, 6, height);
    ctx.fillRect(0, height - 4, width, 4);
    ctx.strokeStyle = '#A8A8A8';
    ctx.lineWidth = 2;
    ctx.beginPath();
    ctx.moveTo(1, height); ctx.lineTo(1, 1); ctx.lineTo(width, 1);
    ctx.stroke();

    // plot frame
    ctx.strokeStyle = '#000000';
    ctx.lineWidth = 1;
    ctx.strokeRect(a.left + 0.5, a.top + 0.5, a.right - a.left, a.bottom - a.top);

    // chart shift marker
    const sx = x.getPixelForValue(allBars.length + 0.5);
    ctx.fillStyle = '#A0A0A0';
    ctx.beginPath();
    ctx.moveTo(sx - 6, 0); ctx.lineTo(sx + 6, 0); ctx.lineTo(sx, 6); ctx.closePath();
    ctx.fill();

    // price tags on the axis
    const tags = levelPrices.map((p, k) => ({ p, c: levelColors[k] }));
    tags.push({ p: currentPrice, c: '#000000' });
    tags.sort((m, n) => n.p - m.p);
    ctx.font = tagFont;
    ctx.textAlign = 'left';
    ctx.textBaseline = 'middle';
    tags.forEach(t => {
      const py = Math.round(y.getPixelForValue(t.p));
      ctx.fillStyle = t.c;
      ctx.fillRect(a.right + 2, py - 7, 80, 23);
      ctx.fillStyle = '#FFFFFF';
      ctx.fillText(t.p.toFixed(3), a.right + 10, py + 4.5);
    });

    // header
    ctx.fillStyle = '#000000';
    ctx.beginPath();
    ctx.moveTo(10, 15); ctx.lineTo(20, 15); ctx.lineTo(15, 22); ctx.closePath();
    ctx.fill();
    ctx.font = tagFont;
    ctx.textBaseline = 'alphabetic';
    const header = symbolName + ',' + periodName + '  ' + lastBar[0].toFixed(3) + ' ' + lastBar[1].toFixed(3) + ' ' +
      lastBar[2].toFixed(3) + ' ' + lastBar[3].toFixed(3);
    ctx.fillText(header, 33, 26);
    ctx.restore();
  }
};

Chart.defaults.font.family = axisFont.family;

new Chart(document.getElementById('chart').getContext('2d'), {
  type: 'bar',
  data: { datasets: [wickSet, bodySet, bidSet].concat(levelSets) },
  options: {
    responsive: false,
    animation: false,
    events: [],
    layout: { padding: { left: 4, top: 4, right: 0, bottom: 0 } },
    plugins: { legend: { display: false }, tooltip: { enabled: false } },
    scales: {
      x: {
        type: 'linear', min: xMin, max: xMax, offset: false, bounds: 'data',
        grid: {
          offset: false, color: gridColor, lineWidth: 1, tickLength: 4, tickBorderDash: [],
          tickColor: c => (c.tick && timeLabelAt(c.tick.value) ? '#000000' : 'rgba(0,0,0,0)')
        },
        border: { display: true, color: '#000000', width: 1, dash: [3, 3] },
        ticks: {
          autoSkip: false, maxRotation: 0, minRotation: 0, align: 'start', padding: 0,
          color: '#000000', font: axisFont, callback: v => timeLabelAt(v)
        },
        afterBuildTicks: ax => {
          const t = [];
          for (let v = 0; v <= ax.max; v += 16) t.push({ value: v });
          ax.ticks = t;
        },
        afterFit: ax => { ax.height = 35; ax.paddingLeft = 0; ax.paddingRight = 0; }
      },
      y: {
        type: 'linear', position: 'right', min: yMin, max: yMax, beginAtZero: false, bounds: 'data',
        grid: { color: gridColor, lineWidth: 1, tickLength: 4, tickColor: '#000000', tickBorderDash: [] },
        border: { display: true, color: '#000000', width: 1, dash: [3, 3] },
        ticks: {
          autoSkip: false, padding: 6, color: '#000000', font: axisFont,
          callback: v => Number(v).toFixed(3)
        },
        afterBuildTicks: ax => { ax.ticks = priceTicks.map(v => ({ value: v })); },
        afterFit: ax => { ax.width = 94; ax.paddingTop = 0; ax.paddingBottom = 0; }
      }
    }
  },
  plugins: [overlay]
});
</script>
</body>
</html>
